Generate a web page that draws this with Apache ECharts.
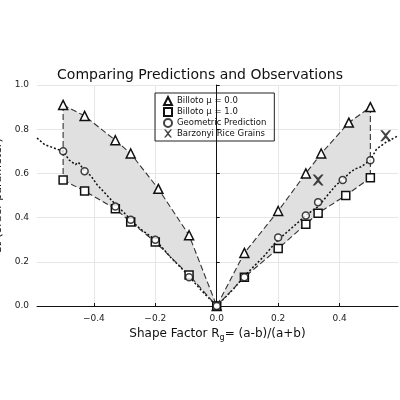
<!DOCTYPE html><html><head><meta charset="utf-8"><script src="https://cdn.jsdelivr.net/npm/echarts@6/dist/echarts.min.js"></script></head><body style="margin:0"><div id="c" style="width:400px;height:400px"></div><script>
const triX=[-0.5,-0.43,-0.33,-0.28,-0.19,-0.09,0,0.09,0.2,0.29,0.34,0.43,0.5];
const triY=[0.91,0.86,0.75,0.69,0.53,0.32,0,0.24,0.43,0.60,0.69,0.83,0.90];
const sqX=[-0.5,-0.43,-0.33,-0.28,-0.2,-0.09,0,0.09,0.2,0.29,0.33,0.42,0.5];
const sqY=[0.57,0.52,0.44,0.38,0.29,0.14,0,0.13,0.26,0.37,0.42,0.50,0.58];
const ciX=[-0.5,-0.43,-0.33,-0.28,-0.2,-0.09,0,0.09,0.2,0.29,0.33,0.41,0.5];
const ciY=[0.70,0.61,0.45,0.39,0.30,0.13,0,0.13,0.31,0.41,0.47,0.57,0.66];
const xX=[0.33,0.55];
const xY=[0.57,0.77];
const curX=[-0.585,-0.56,-0.54,-0.52,-0.5,-0.48,-0.46,-0.45,-0.43,-0.41,-0.39,-0.37,-0.35,-0.33,-0.3,-0.28,-0.25,-0.2,-0.15,-0.1,-0.05,0,0.05,0.1,0.15,0.2,0.25,0.29,0.33,0.36,0.39,0.41,0.43,0.45,0.47,0.5,0.52,0.55,0.59];
const curY=[0.76,0.73,0.72,0.71,0.70,0.66,0.64,0.65,0.61,0.59,0.55,0.52,0.49,0.46,0.42,0.39,0.35,0.30,0.22,0.15,0.07,0,0.07,0.15,0.22,0.30,0.36,0.41,0.45,0.50,0.55,0.57,0.60,0.62,0.63,0.66,0.71,0.74,0.77];
const xTicks=[-0.4,-0.2,0,0.2,0.4];
const zip=(a,b)=>a.map((v,i)=>[v,b[i]]);
const polys=[[0,6],[6,12]].map(([s,e])=>{const p=[];for(let i=s;i<=e;i++)p.push([triX[i],triY[i]]);for(let i=e;i>=s;i--)p.push([sqX[i],sqY[i]]);return p;});
const xPath='path://M0,0L2,0L5,3L8,0L10,0L6,5L10,10L8,10L5,7L2,10L0,10L4,5Z';
const ch=echarts.init(document.getElementById('c'));
const ff='DejaVu Sans';
const dash={color:'#333',type:[6,3],width:1.1};
ch.setOption({
 animation:false,textStyle:{fontFamily:ff},
 title:{text:'Comparing Predictions and Observations',left:'center',top:63,textStyle:{fontSize:14,fontWeight:'normal',color:'#111',fontFamily:ff}},
 grid:{left:37,right:2,top:85,bottom:94,containLabel:false,outerBoundsMode:'none'},
 legend:{left:155,top:93,orient:'vertical',itemGap:1,itemWidth:8,itemHeight:8,borderColor:'#222',borderWidth:1,borderRadius:0,padding:[3,8,3,8],textStyle:{fontSize:8.5,color:'#111'},
  data:[{name:'Billoto μ = 0.0',icon:'triangle'},{name:'Billoto μ = 1.0',icon:'rect'},{name:'Geometric Prediction',icon:'circle'},{name:'Barzonyi Rice Grains',icon:xPath}]},
 xAxis:{type:'value',min:-0.585,max:0.59,name:'{a|Shape Factor R}{s|g}{a|= (a-b)/(a+b)}',nameLocation:'middle',nameGap:20,
  nameTextStyle:{rich:{a:{fontSize:12,color:'#111'},s:{fontSize:8,color:'#111',verticalAlign:'bottom',padding:[8,0,0,0]}}},
  axisLine:{lineStyle:{color:'#111'}},axisTick:{show:true,customValues:xTicks,inside:true,length:3},
  axisLabel:{customValues:xTicks,fontSize:9,color:'#222',formatter:v=>v.toFixed(1).replace('-','−')},
  splitLine:{show:true,lineStyle:{color:'#e6e6e6'}}},
 yAxis:{type:'value',min:0,max:1,interval:0.2,name:'S₂ (order parameter)',nameLocation:'middle',nameGap:24,nameTextStyle:{fontSize:11,color:'#111'},
  axisLine:{show:true,lineStyle:{color:'#111'}},axisTick:{show:true,inside:true,length:3},
  axisLabel:{fontSize:9,color:'#222',formatter:v=>v.toFixed(1)},splitLine:{lineStyle:{color:'#e6e6e6'}}},
 series:[
  {type:'custom',silent:true,z:1,data:[0,1],renderItem:(p,api)=>({type:'polygon',shape:{points:polys[api.value(0)].map(q=>api.coord(q))},style:{fill:'#e0e0e0'}}),encode:{x:-1,y:-1}},
  {type:'line',data:[[triX[0],triY[0]],[sqX[0],sqY[0]]],symbol:'none',lineStyle:dash,z:2},
  {type:'line',data:[[triX[12],triY[12]],[sqX[12],sqY[12]]],symbol:'none',lineStyle:dash,z:2},
  {type:'line',data:zip(curX,curY),symbol:'none',lineStyle:{color:'#111',type:[2,2],width:1.5},z:3},
  {name:'Billoto μ = 0.0',type:'line',data:zip(triX,triY),symbol:'triangle',symbolSize:9,itemStyle:{color:'#fff',borderColor:'#111',borderWidth:1.5},lineStyle:dash,z:4},
  {name:'Billoto μ = 1.0',type:'line',data:zip(sqX,sqY),symbol:'rect',symbolSize:8,itemStyle:{color:'#fff',borderColor:'#111',borderWidth:1.5},lineStyle:dash,z:4},
  {name:'Geometric Prediction',type:'scatter',data:zip(ciX,ciY),symbol:'circle',symbolSize:7,itemStyle:{color:'#fff',borderColor:'#111',borderWidth:1.5},z:5},
  {name:'Barzonyi Rice Grains',type:'scatter',data:zip(xX,xY),symbol:xPath,symbolSize:11,itemStyle:{color:'#111',borderWidth:0},z:5}
 ]});
</script></body></html>
